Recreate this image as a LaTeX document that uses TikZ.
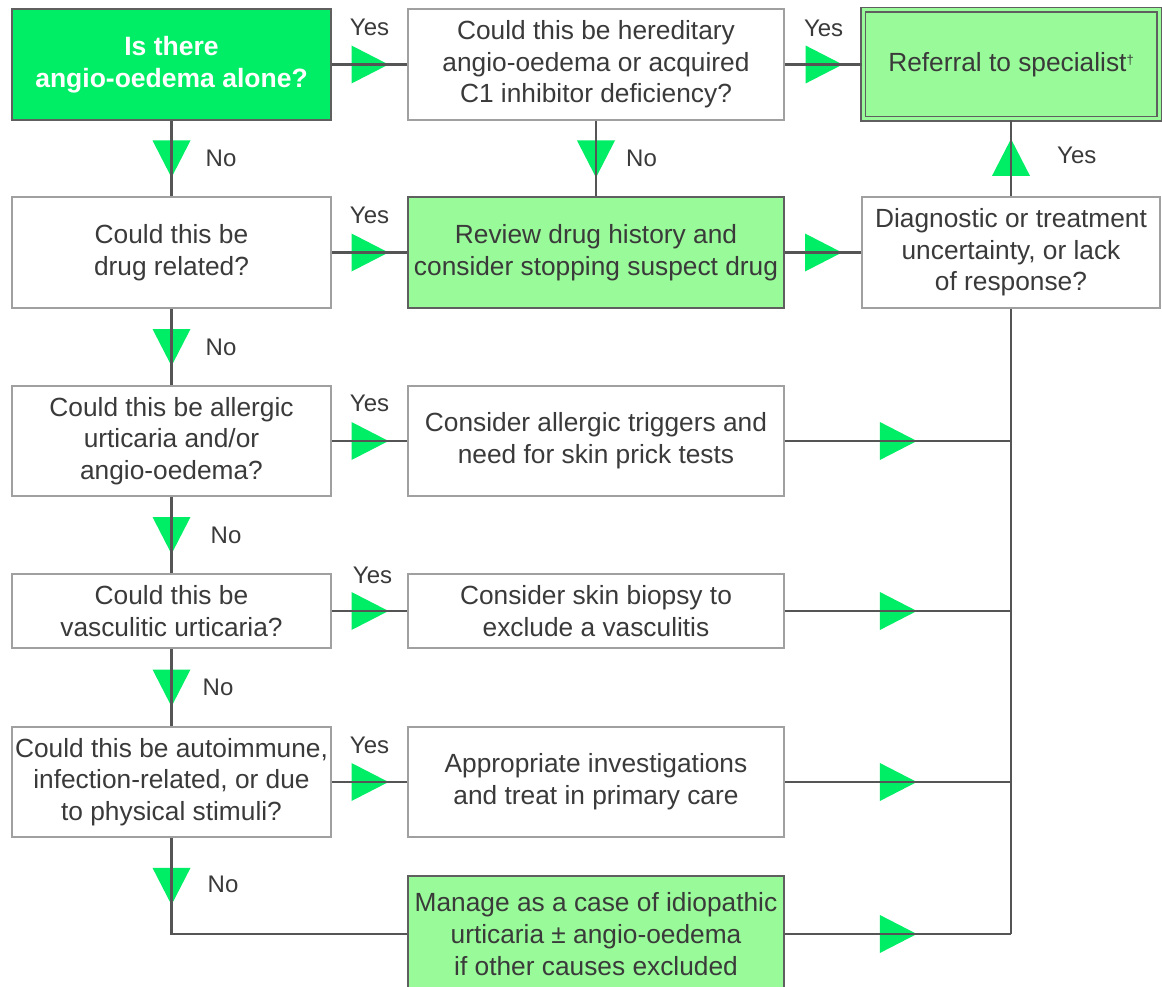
\documentclass[tikz,border=0pt]{standalone}
\usepackage{fontspec}
\setmainfont{Liberation Sans}
\definecolor{bgreen}{RGB}{0,238,102}
\definecolor{lgreen}{RGB}{153,250,153}
\definecolor{txt}{RGB}{58,58,58}
\definecolor{edgec}{RGB}{95,95,95}
\definecolor{wedge}{RGB}{160,160,160}
\definecolor{linec}{RGB}{85,85,85}
\tikzset{
  base/.style={rectangle, align=center, text=txt, inner sep=0pt, line width=1.5pt,
    font=\fontsize{26.3}{31.7}\selectfont},
  colL/.style={minimum width=319pt},
  colM/.style={minimum width=376pt},
  colR/.style={minimum width=298pt},
  tall/.style={minimum height=111pt},
  short/.style={minimum height=74pt},
  wbox/.style={base, draw=wedge, fill=white},
  gbox/.style={base, draw=edgec, fill=lgreen},
  startbox/.style={base, draw=edgec, fill=bgreen, text=white, font=\fontsize{26.5}{31.7}\selectfont\bfseries},
  refbox/.style={base, draw=edgec, fill=lgreen, double=lgreen, double distance=3pt, line width=1.2pt},
  conn/.style={draw=linec, line width=2.2pt},
  lbl/.style={text=txt, font=\fontsize{24}{28}\selectfont, inner sep=0pt},
  triR/.pic={\fill[bgreen] (-18,-19) -- (19,0) -- (-18,19) -- cycle;},
  triD/.pic={\fill[bgreen] (-19,-18) -- (19,-18) -- (0,19) -- cycle;},
  triU/.pic={\fill[bgreen] (-19,18) -- (19,18) -- (0,-19) -- cycle;},
}
\begin{document}
\begin{tikzpicture}[x=1pt,y=-1pt]
\useasboundingbox[fill=white] (0,0) rectangle (1162,987);

% nodes
\node[startbox, colL, tall] (A) at (171.5,64.5) {Is there\\angio-oedema alone?};
\node[wbox, colM, tall] (B) at (596,64.5) {Could this be hereditary\\angio-oedema or acquired\\C1 inhibitor deficiency?};
\node[refbox, minimum width=296pt, minimum height=109pt] (C) at (1011,64.5) {Referral to specialist\raisebox{7pt}{\fontsize{13}{13}\selectfont †}};
\node[wbox, colL, tall] (D) at (171.5,252.5) {Could this be\\drug related?};
\node[gbox, colM, tall] (E) at (596,252.5) {Review drug history and\\consider stopping suspect drug};
\node[wbox, colR, tall] (F) at (1011,252.5) {Diagnostic or treatment\\uncertainty, or lack\\of response?};
\node[wbox, colL, minimum height=110pt] (G) at (171.5,441) {Could this be allergic\\urticaria and/or\\angio-oedema?};
\node[wbox, colM, minimum height=110pt] (H) at (596,441) {Consider allergic triggers and\\need for skin prick tests};
\node[wbox, colL, short] (I) at (171.5,611) {Could this be\\vasculitic urticaria?};
\node[wbox, colM, short] (J) at (596,611) {Consider skin biopsy to\\exclude a vasculitis};
\node[wbox, colL, minimum height=110pt] (K) at (171.5,782) {Could this be autoimmune,\\infection-related, or due\\to physical stimuli?};
\node[wbox, colM, minimum height=110pt] (L) at (596,782) {Appropriate investigations\\and treat in primary care};
\node[gbox, colM, minimum height=116pt] (M) at (596,934) {Manage as a case of idiopathic\\urticaria ± angio-oedema\\if other causes excluded};

% junction coordinates on the right trunk
\coordinate (rH) at (F.south |- H.east);
\coordinate (rJ) at (F.south |- J.east);
\coordinate (rL) at (F.south |- L.east);
\coordinate (rM) at (F.south |- M.east);
\coordinate (kM) at (K.south |- M.west);

% triangle positions
\path (A.east) -- coordinate[midway] (ab) (B.west);
\path (B.east) -- coordinate[midway] (bc) (C.west);
\path (A.south) -- coordinate[midway] (ad) (D.north);
\path (B.south) -- coordinate[midway] (be) (E.north);
\path (F.north) -- coordinate[midway] (fc) (C.south);
\path (D.east) -- coordinate[midway] (de) (E.west);
\path (E.east) -- coordinate[midway] (ef) (F.west);
\path (D.south) -- coordinate[midway] (dg) (G.north);
\path (G.east) -- coordinate[midway] (gh) (H.west);
\path (G.south) -- coordinate[midway] (gi) (I.north);
\path (I.east) -- coordinate[midway] (ij) (J.west);
\path (I.south) -- coordinate[midway] (ik) (K.north);
\path (K.east) -- coordinate[midway] (kl) (L.west);
\path (K.south) -- coordinate[midway] (km) (kM);
\path (H.east) -- coordinate[midway] (hr) (rH);
\path (J.east) -- coordinate[midway] (jr) (rJ);
\path (L.east) -- coordinate[midway] (lr) (rL);
\path (M.east) -- coordinate[midway] (mr) (rM);

\foreach \p in {ab,bc,de,ef,gh,ij,kl,hr,jr,lr,mr} {\pic at (\p) {triR};}
\foreach \p in {ad,be,dg,gi,ik,km} {\pic at (\p) {triD};}
\pic at (fc) {triU};

% connectors (drawn over the triangles)
\draw[conn] (A.east) -- (B.west);
\draw[conn] (B.east) -- (C.west);
\draw[conn] (A.south) -- (D.north);
\draw[conn] (B.south) -- (E.north);
\draw[conn] (F.north) -- (C.south);
\draw[conn] (D.east) -- (E.west);
\draw[conn] (E.east) -- (F.west);
\draw[conn] (D.south) -- (G.north);
\draw[conn] (G.east) -- (H.west);
\draw[conn] (G.south) -- (I.north);
\draw[conn] (I.east) -- (J.west);
\draw[conn] (I.south) -- (K.north);
\draw[conn] (K.east) -- (L.west);
\draw[conn] (K.south) -- (kM) -- (M.west);
\draw[conn] (H.east) -- (rH);
\draw[conn] (J.east) -- (rJ);
\draw[conn] (L.east) -- (rL);
\draw[conn] (M.east) -- (rM);
\draw[conn] (F.south) -- (rM);

% labels
\node[lbl, yshift=37pt] (lab) at (ab) {Yes};
\node[lbl, yshift=36pt] (lbc) at (bc) {Yes};
\node[lbl, yshift=37pt] (lde) at (de) {Yes};
\node[lbl, yshift=38pt] (lgh) at (gh) {Yes};
\node[lbl, yshift=36pt, xshift=3pt] (lij) at (ij) {Yes};
\node[lbl, yshift=37pt] (lkl) at (kl) {Yes};
\node[lbl, anchor=west, xshift=34pt] (lad) at (ad) {No};
\node[lbl, anchor=west, xshift=30pt] (lbe) at (be) {No};
\node[lbl, anchor=west, xshift=34pt] (ldg) at (dg) {No};
\node[lbl, anchor=west, xshift=39pt] (lgi) at (gi) {No};
\node[lbl, anchor=west, xshift=31pt] (lik) at (ik) {No};
\node[lbl, anchor=west, xshift=36pt, yshift=2pt] (lkm) at (km) {No};
\node[lbl, anchor=west, xshift=46pt, yshift=3pt] (lfc) at (fc) {Yes};
\end{tikzpicture}
\end{document}
